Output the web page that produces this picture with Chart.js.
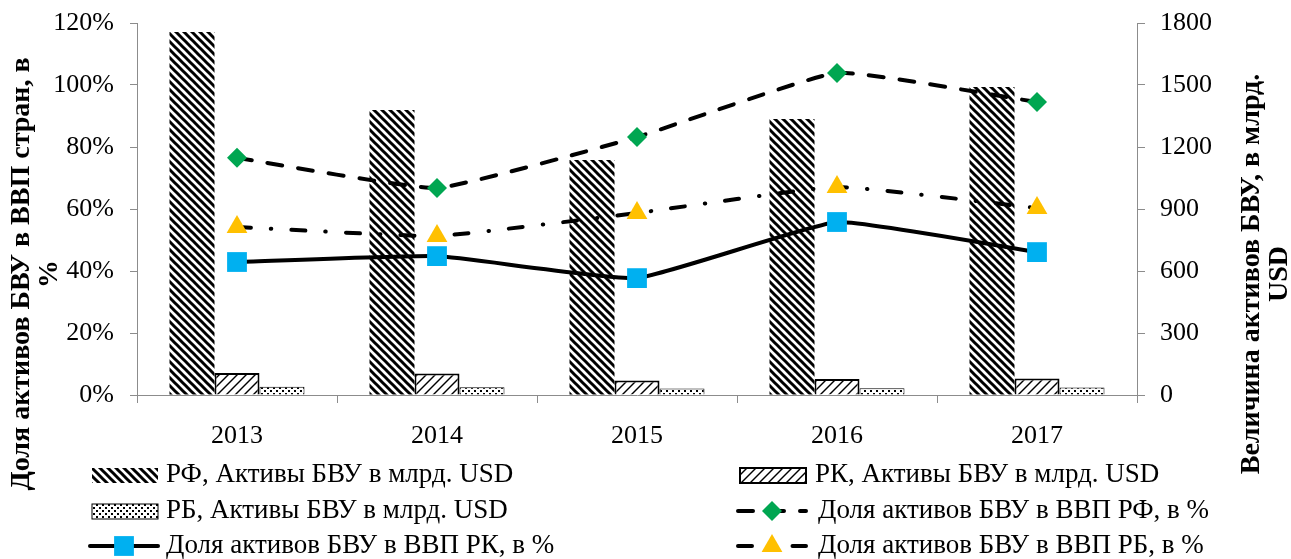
<!DOCTYPE html>
<html>
<head>
<meta charset="utf-8">
<script src="https://cdn.jsdelivr.net/npm/chart.js@4.4.1/dist/chart.umd.min.js"></script>
<style>
  html, body { margin: 0; padding: 0; background: #fff; }
  #wrap { width: 1291px; height: 559px; }
</style>
</head>
<body>
<div id="wrap"><canvas id="bankCanvas" width="1291" height="559"></canvas></div>
<script>
var years = ['2013', '2014', '2015', '2016', '2017'];

// активы БВУ, млрд. USD (правая ось)
var assetsRF = [1757, 1379, 1137, 1336, 1490];
var assetsRK = [106, 104, 70, 78, 80];
var assetsRB = [40, 38, 31, 33, 36];

// доля активов БВУ в ВВП, % (левая ось)
var shareRF = [76.5, 66.8, 83.2, 103.9, 94.5];
var shareRK = [42.9, 44.8, 37.7, 55.8, 46.1];
var shareRB = [54.2, 51.3, 58.7, 67.1, 60.3];

var leftTicks = { min: 0, max: 120, step: 20 };
var rightTicks = { min: 0, max: 1800, step: 300 };

var leftTitle = ['Доля активов БВУ в ВВП стран, в', '%'];
var rightTitle = ['Величина активов БВУ, в млрд.', 'USD'];

var FONT = '"Liberation Serif", "Times New Roman", serif';
var AXIS = '#8c8c8c';

function makePattern(size, draw) {
  var c = document.createElement('canvas');
  c.width = size; c.height = size;
  var g = c.getContext('2d');
  g.fillStyle = '#fff';
  g.fillRect(0, 0, size, size);
  g.strokeStyle = '#000';
  g.fillStyle = '#000';
  draw(g, size);
  return c.getContext('2d').createPattern(c, 'repeat');
}

var ctx = document.getElementById('bankCanvas').getContext('2d');

var patRF = makePattern(8, function (g, s) {
  g.lineWidth = 3;
  for (var k = -1; k <= 1; k++) {
    g.beginPath(); g.moveTo(k * s - 2, -2); g.lineTo(k * s + s + 2, s + 2); g.stroke();
  }
});
var patRK = makePattern(9, function (g, s) {
  g.lineWidth = 1.4;
  for (var k = -1; k <= 1; k++) {
    g.beginPath(); g.moveTo(k * s - 2, s + 2); g.lineTo(k * s + s + 2, -2); g.stroke();
  }
});
var patRB = makePattern(6, function (g, s) {
  g.fillRect(0, 0, 2, 2);
  g.fillRect(3, 3, 2, 2);
});

// легенда и подписи осей рисуются вручную (как в Excel)
var excelLegend = {
  id: 'excelLegend',
  afterDraw: function (chart) {
    var c = chart.ctx;
    var cols = [{ x: 92, text: 166 }, { x: 740, text: 815 }];
    var rows = [475, 511, 546];
    c.save();
    c.font = '27px ' + FONT;
    c.textBaseline = 'middle';
    c.fillStyle = '#000';
    chart.data.datasets.forEach(function (ds, i) {
      var col = cols[i % 2], y = rows[Math.floor(i / 2)];
      if (ds.type === 'line') {
        var x0 = col.x - 2, x1 = col.x + 66;
        c.save();
        c.strokeStyle = ds.borderColor;
        c.lineWidth = ds.borderWidth;
        c.lineCap = 'round';
        c.setLineDash(ds.borderDash || []);
        c.beginPath(); c.moveTo(x0, y); c.lineTo(x1, y); c.stroke();
        c.setLineDash([]);
        c.fillStyle = ds.pointBackgroundColor;
        Chart.helpers.drawPoint(c, { pointStyle: ds.pointStyle, radius: ds.pointRadius, rotation: 0, borderWidth: 0 }, (x0 + x1) / 2, y);
        c.restore();
        c.fillText(ds.label, col.text + (i % 2 ? 3 : 0), y);
      } else {
        c.save();
        c.fillStyle = ds.backgroundColor;
        c.fillRect(col.x, y - 7, 66, 15);
        if (ds.borderWidth) {
          c.strokeStyle = '#000';
          c.lineWidth = ds.borderWidth;
          c.strokeRect(col.x, y - 7, 66, 15);
        }
        c.restore();
        c.fillText(ds.label, col.text, y);
      }
    });
    c.font = 'bold 28px ' + FONT;
    c.textAlign = 'center';
    [[leftTitle, 22, 50], [rightTitle, 1252, 1280]].forEach(function (t) {
      t[0].forEach(function (line, j) {
        c.save();
        c.translate(t[j + 1], 274);
        c.rotate(-Math.PI / 2);
        c.fillText(line, 0, 0);
        c.restore();
      });
    });
    c.restore();
  }
};

function fixY(width) {
  return function (s) { s.width = width; s.paddingTop = 0; s.paddingBottom = 0; };
}

new Chart(ctx, {
  data: {
    labels: years,
    datasets: [{
      type: 'bar', label: 'РФ, Активы БВУ в млрд. USD', data: assetsRF,
      yAxisID: 'y1', backgroundColor: patRF, borderWidth: 0, order: 2
    }, {
      type: 'bar', label: 'РК, Активы БВУ в млрд. USD', data: assetsRK,
      yAxisID: 'y1', backgroundColor: patRK, borderColor: '#000', borderWidth: 2, order: 2
    }, {
      type: 'bar', label: 'РБ, Активы БВУ в млрд. USD', data: assetsRB,
      yAxisID: 'y1', backgroundColor: patRB, borderColor: '#000', borderWidth: 1, order: 2
    }, {
      type: 'line', label: 'Доля активов БВУ в ВВП РФ, в %', data: shareRF,
      yAxisID: 'y', borderColor: '#000', borderWidth: 4, borderDash: [15, 16], borderCapStyle: 'round',
      pointStyle: 'rectRot', pointRadius: 10, pointBackgroundColor: '#00a651', pointBorderWidth: 0,
      tension: 0.12, order: 0
    }, {
      type: 'line', label: 'Доля активов БВУ в ВВП РК, в %', data: shareRK,
      yAxisID: 'y', borderColor: '#000', borderWidth: 4,
      pointStyle: 'rect', pointRadius: 14, pointBackgroundColor: '#00b0f0', pointBorderWidth: 0,
      tension: 0.12, order: 0
    }, {
      type: 'line', label: 'Доля активов БВУ в ВВП РБ, в %', data: shareRB,
      yAxisID: 'y', borderColor: '#000', borderWidth: 4, borderDash: [14, 20, 0.5, 20], borderCapStyle: 'round',
      pointStyle: 'triangle', pointRadius: 12, pointBackgroundColor: '#ffc000', pointBorderWidth: 0,
      tension: 0.12, order: 0
    }]
  },
  options: {
    responsive: false,
    animation: false,
    layout: { padding: { top: 23, left: 0, right: 0, bottom: 0 } },
    datasets: { bar: { categoryPercentage: 0.675, barPercentage: 1.0 } },
    plugins: { legend: { display: false }, tooltip: { enabled: false } },
    scales: {
      x: {
        offset: true,
        grid: { offset: true, drawOnChartArea: false, color: AXIS, tickLength: 8 },
        border: { color: AXIS, width: 1 },
        ticks: { color: '#000', font: { family: FONT, size: 26 }, padding: 18 },
        afterFit: function (s) { s.height = 164; }
      },
      y: {
        position: 'left',
        min: leftTicks.min, max: leftTicks.max,
        grid: { drawOnChartArea: false, color: AXIS, tickLength: 7 },
        border: { color: AXIS, width: 1 },
        ticks: {
          stepSize: leftTicks.step, color: '#000', font: { family: FONT, size: 26 }, padding: 16,
          callback: function (v) { return v + '%'; }
        },
        afterFit: fixY(137)
      },
      y1: {
        position: 'right',
        min: rightTicks.min, max: rightTicks.max,
        grid: { drawOnChartArea: false, color: AXIS, tickLength: 8 },
        border: { color: AXIS, width: 1 },
        ticks: {
          stepSize: rightTicks.step, color: '#000', font: { family: FONT, size: 26 }, padding: 15,
          callback: function (v) { return String(v); }
        },
        afterFit: fixY(154)
      }
    }
  },
  plugins: [excelLegend]
});
</script>
</body>
</html>
